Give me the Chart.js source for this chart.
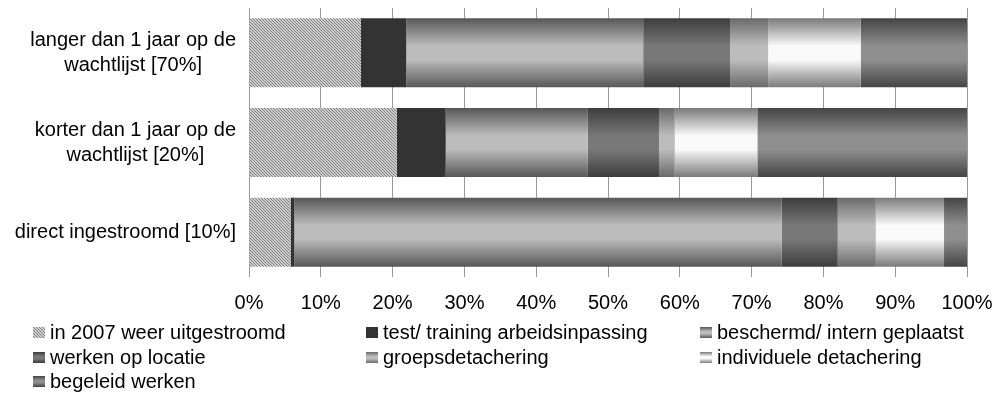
<!DOCTYPE html>
<html>
<head>
<meta charset="utf-8">
<script src="https://cdn.jsdelivr.net/npm/chart.js@4.4.0/dist/chart.umd.min.js"></script>
<style>
    html, body { margin: 0; padding: 0; background: #fff; }
    #grafico { display: block; }
</style>
</head>
<body>
<canvas id="grafico" width="997" height="407"></canvas>
<script>
// Categorías del eje vertical (cada una en una o dos líneas).
const CATEGORIAS = [
    ['langer dan 1 jaar op de', 'wachtlijst [70%]'],
    ['korter dan 1 jaar op de', 'wachtlijst [20%]'],
    ['direct ingestroomd [10%]']
];
// Nombres de las series.
const SERIES = [
    'in 2007 weer uitgestroomd',
    'test/ training arbeidsinpassing',
    'beschermd/ intern geplaatst',
    'werken op locatie',
    'groepsdetachering',
    'individuele detachering',
    'begeleid werken'
];
// Valores (%) por serie, en el orden de las categorías.
const UITGESTROOMD = [15.6, 20.6, 5.8];
const TEST_TRAINING = [6.3, 6.8, 0.5];
const BESCHERMD = [33.0, 19.8, 67.9];
const WERKEN_OP_LOCATIE = [12.1, 9.9, 7.8];
const GROEPSDETACHERING = [5.3, 2.2, 5.3];
const INDIVIDUELE_DETACHERING = [12.9, 11.5, 9.5];
const BEGELEID_WERKEN = [14.8, 29.2, 3.2];
// Etiquetas del eje horizontal.
const TICKS_X = ['0%', '10%', '20%', '30%', '40%', '50%', '60%', '70%', '80%', '90%', '100%'];

// Estilos de relleno de cada serie (borde y centro del degradado).
const ESTILOS = [
    { patron: true },
    { solido: '#333333' },
    { borde: '#575757', centro: '#bcbcbc' },
    { borde: '#3d3d3d', centro: '#787878' },
    { borde: '#6a6a6a', centro: '#bcbcbc' },
    { borde: '#7a7a7a', centro: '#fafafa' },
    { borde: '#444444', centro: '#8f8f8f' }
];
const FUENTE = '"Liberation Sans", Arial, sans-serif';
const TAM_FUENTE = 20;
const BAR_PCT = 0.77;

/*
*   Función para crear el patrón rayado de la primera serie.
*/
let patron = null;
const patronRayado = (ctx) => {
    if (patron) return patron;
    const tile = document.createElement('canvas');
    tile.width = 3;
    tile.height = 3;
    const t = tile.getContext('2d');
    t.fillStyle = '#d0d0d0';
    t.fillRect(0, 0, 3, 3);
    t.fillStyle = '#7c7c7c';
    t.fillRect(0, 0, 1, 1);
    t.fillRect(1, 1, 1, 1);
    t.fillRect(2, 2, 1, 1);
    patron = ctx.createPattern(tile, 'repeat');
    return patron;
}

/*
*   Función para crear un degradado vertical tipo cilindro.
*/
const degradado = (ctx, y0, y1, estilo) => {
    const g = ctx.createLinearGradient(0, y0, 0, y1);
    g.addColorStop(0, estilo.borde);
    g.addColorStop(0.4, estilo.centro);
    g.addColorStop(0.6, estilo.centro);
    g.addColorStop(1, estilo.borde);
    return g;
}

/*
*   Función que devuelve el relleno (scriptable) de una serie.
*/
const relleno = (estilo) => (c) => {
    const chart = c.chart;
    if (estilo.patron) return patronRayado(chart.ctx);
    if (estilo.solido) return estilo.solido;
    const area = chart.chartArea;
    if (!area || c.dataIndex === undefined) return estilo.centro;
    const centro = chart.scales.y.getPixelForTick(c.dataIndex);
    const alto = area.height / CATEGORIAS.length * BAR_PCT;
    return degradado(chart.ctx, centro - alto / 2, centro + alto / 2, estilo);
}

const VALORES = [UITGESTROOMD, TEST_TRAINING, BESCHERMD, WERKEN_OP_LOCATIE,
    GROEPSDETACHERING, INDIVIDUELE_DETACHERING, BEGELEID_WERKEN];

// Plugin para las etiquetas del eje vertical (bloque alineado a la derecha, líneas centradas).
const etiquetasY = {
    id: 'etiquetasY',
    afterDraw: (chart) => {
        const ctx = chart.ctx;
        const escala = chart.scales.y;
        ctx.save();
        ctx.font = `${TAM_FUENTE}px ${FUENTE}`;
        ctx.fillStyle = '#000';
        ctx.textAlign = 'center';
        ctx.textBaseline = 'middle';
        CATEGORIAS.forEach((lineas, i) => {
            const yc = escala.getPixelForTick(i);
            const ancho = Math.max(...lineas.map(l => ctx.measureText(l).width));
            const cx = 236 - ancho / 2;
            lineas.forEach((l, j) => {
                ctx.fillText(l, cx, yc + (j - (lineas.length - 1) / 2) * 25);
            });
        });
        ctx.restore();
    }
};

// Plugin para la leyenda en tres columnas.
const leyenda = {
    id: 'leyenda',
    afterDraw: (chart) => {
        const ctx = chart.ctx;
        const columnas = [33, 366, 700];
        const filas = [333, 358, 382];
        ctx.save();
        ctx.font = `${TAM_FUENTE}px ${FUENTE}`;
        ctx.textBaseline = 'middle';
        ctx.textAlign = 'left';
        SERIES.forEach((nombre, i) => {
            const x = columnas[i % 3];
            const y = filas[Math.floor(i / 3)];
            const estilo = ESTILOS[i];
            if (estilo.patron) ctx.fillStyle = patronRayado(ctx);
            else if (estilo.solido) ctx.fillStyle = estilo.solido;
            else ctx.fillStyle = degradado(ctx, y - 6, y + 5, estilo);
            ctx.fillRect(x, y - 6, 12, 11);
            ctx.fillStyle = '#000';
            ctx.fillText(nombre, x + 17, y);
        });
        ctx.restore();
    }
};

const contexto = document.getElementById('grafico').getContext('2d');
const grafico = new Chart(contexto, {
    type: 'bar',
    data: {
        labels: CATEGORIAS,
        datasets: SERIES.map((nombre, i) => ({
            label: nombre,
            data: VALORES[i],
            backgroundColor: relleno(ESTILOS[i]),
            borderWidth: 0,
            categoryPercentage: 1,
            barPercentage: BAR_PCT
        }))
    },
    options: {
        indexAxis: 'y',
        responsive: false,
        animation: false,
        layout: {
            padding: { top: 8, right: 30, left: 0, bottom: 0 }
        },
        scales: {
            x: {
                stacked: true,
                min: 0,
                max: 100,
                afterFit: (escala) => {
                    escala.height = 130;
                    escala.paddingLeft = 0;
                    escala.paddingRight = 0;
                },
                afterBuildTicks: (escala) => {
                    escala.ticks = TICKS_X.map((t, i) => ({ value: i * 10 }));
                },
                ticks: {
                    padding: 14,
                    color: '#000',
                    font: { family: FUENTE, size: TAM_FUENTE },
                    maxRotation: 0,
                    callback: (valor, i) => TICKS_X[i]
                },
                grid: { color: '#999999', lineWidth: 1, drawTicks: false },
                border: { display: false }
            },
            y: {
                stacked: true,
                afterFit: (escala) => { escala.width = 249; },
                ticks: { display: false },
                grid: { display: false },
                border: { display: false }
            }
        },
        plugins: {
            legend: { display: false },
            tooltip: { enabled: false }
        }
    },
    plugins: [etiquetasY, leyenda]
});
</script>
</body>
</html>
